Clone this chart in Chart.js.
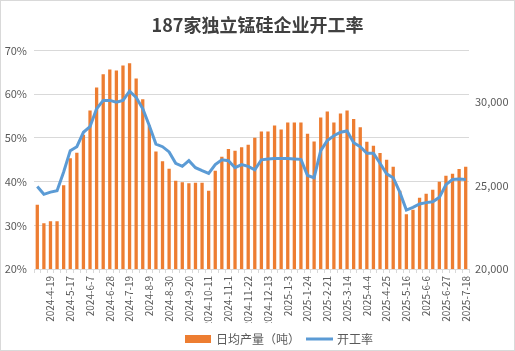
<!DOCTYPE html>
<html>
<head>
<meta charset="utf-8">
<script src="https://cdn.jsdelivr.net/npm/chart.js@4.4.1/dist/chart.umd.min.js"></script>
<style>
  html, body { margin: 0; padding: 0; background: #fff; }
  #wrap { width: 515px; height: 351px; }
</style>
</head>
<body>
<div id="wrap"><canvas id="myChart" width="515" height="351"></canvas></div>
<script>
// weekly dates (some holiday weeks are missing in the source)
const weeks = ['2024-4-5','2024-4-12','2024-4-19','2024-4-26','2024-5-10','2024-5-17','2024-5-24','2024-5-31',
  '2024-6-7','2024-6-14','2024-6-21','2024-6-28','2024-7-5','2024-7-12','2024-7-19','2024-7-26',
  '2024-8-2','2024-8-9','2024-8-16','2024-8-23','2024-8-30','2024-9-6','2024-9-13','2024-9-20','2024-9-27',
  '2024-10-4','2024-10-11','2024-10-18','2024-10-25','2024-11-1','2024-11-8','2024-11-15','2024-11-22','2024-11-29',
  '2024-12-6','2024-12-13','2024-12-20','2024-12-27','2025-1-3','2025-1-10','2025-1-17','2025-1-24',
  '2025-2-7','2025-2-14','2025-2-21','2025-2-28','2025-3-7','2025-3-14','2025-3-21','2025-3-28',
  '2025-4-4','2025-4-11','2025-4-18','2025-4-25','2025-5-2','2025-5-9','2025-5-16','2025-5-23','2025-5-30',
  '2025-6-6','2025-6-13','2025-6-20','2025-6-27','2025-7-4','2025-7-11','2025-7-18'];

// 日均产量（吨）
const dailyOutput = [23860,22740,22860,22860,25020,26640,26980,28060,29500,30880,31680,31960,31900,32200,32340,31420,
  30180,28600,27050,26460,26020,25300,25200,25140,25180,25180,24700,25900,26740,27200,27100,27300,27450,27870,
  28250,28250,28600,28360,28790,28790,28790,28110,27650,29090,29440,28790,29330,29500,29000,28500,27640,27400,
  26960,26560,26140,24700,23280,23560,24280,24520,24760,25240,25600,25720,26000,26140];

// 开工率 (%)
const runRate = [38.9,37.1,37.6,37.9,42.2,47.1,48.0,51.3,52.6,56.7,58.6,58.6,58.2,58.6,60.7,59.3,
  56.7,52.8,48.6,48.0,46.8,44.2,43.5,44.8,43.2,42.5,41.9,43.9,45.0,44.8,43.2,43.9,43.5,42.7,
  45.0,45.2,45.3,45.3,45.3,45.2,45.1,41.4,40.9,47.1,49.4,50.5,51.3,51.6,48.9,48.0,46.5,46.5,
  44.2,41.8,40.9,37.6,33.5,34.1,34.9,35.2,35.4,36.4,39.3,40.5,40.6,40.5];

const rateTicks = [20, 30, 40, 50, 60, 70];
const outputTicks = [20000, 25000, 30000];

const txt = '#595959';
const font = '"Noto Sans CJK SC", "Liberation Sans", sans-serif';

// outer border + bottom legend (Excel style)
const frame = {
  id: 'frame',
  afterDraw(chart) {
    const c = chart.ctx;
    const ds = chart.data.datasets;
    c.save();
    c.strokeStyle = '#d9d9d9';
    c.lineWidth = 1;
    c.strokeRect(0.5, 0.5, chart.width - 1, chart.height - 1);

    const y = 339;
    c.font = '12px ' + font;
    c.textBaseline = 'middle';
    let x = 185;
    c.fillStyle = ds[0].backgroundColor;
    c.fillRect(x, y - 4, 26, 8);
    c.fillStyle = txt;
    c.fillText(ds[0].label, x + 31, y);
    x = x + 31 + c.measureText(ds[0].label).width + 6;
    c.strokeStyle = ds[1].borderColor;
    c.lineWidth = 3;
    c.beginPath();
    c.moveTo(x, y);
    c.lineTo(x + 27, y);
    c.stroke();
    c.fillText(ds[1].label, x + 31, y);
    c.restore();
  }
};

const ctx = document.getElementById('myChart').getContext('2d');
new Chart(ctx, {
  data: {
    labels: weeks,
    datasets: [
      {
        type: 'bar',
        label: '日均产量（吨）',
        data: dailyOutput,
        yAxisID: 'yOut',
        backgroundColor: '#ED7D31',
        barPercentage: 0.5,
        categoryPercentage: 1,
        order: 2
      },
      {
        type: 'line',
        label: '开工率',
        data: runRate,
        yAxisID: 'yRate',
        borderColor: '#5B9BD5',
        backgroundColor: '#5B9BD5',
        borderWidth: 3,
        pointRadius: 0,
        tension: 0,
        order: 1
      }
    ]
  },
  options: {
    responsive: false,
    animation: false,
    layout: { padding: { top: 0, left: 0, right: 0, bottom: 28 } },
    plugins: {
      title: {
        display: true,
        text: '187家独立锰硅企业开工率',
        color: '#404040',
        font: { family: font, size: 18, weight: 'bold' },
        padding: { top: 14, bottom: 15 }
      },
      legend: { display: false },
      tooltip: { enabled: false }
    },
    scales: {
      x: {
        offset: true,
        afterFit: s => { s.height = 54; },
        grid: { display: true, drawOnChartArea: false, drawTicks: true, tickLength: 4, offset: true, color: '#d9d9d9' },
        border: { color: '#d9d9d9' },
        ticks: {
          autoSkip: false,
          maxRotation: 90,
          minRotation: 90,
          color: txt,
          font: { family: font, size: 10 },
          padding: 3,
          callback: function (v, i) { return i % 3 === 2 ? this.getLabelForValue(v) : ''; }
        }
      },
      yRate: {
        position: 'left',
        min: 20,
        max: 70,
        afterBuildTicks: s => { s.ticks = rateTicks.map(v => ({ value: v })); },
        afterFit: s => { s.width = 34; },
        grid: { color: '#d9d9d9', drawTicks: false },
        border: { display: false },
        ticks: { color: txt, font: { family: font, size: 11 }, padding: 7, callback: v => v + '%' }
      },
      yOut: {
        position: 'right',
        min: 20000,
        max: 33100,
        afterBuildTicks: s => { s.ticks = outputTicks.map(v => ({ value: v })); },
        afterFit: s => { s.width = 46; },
        grid: { display: false, drawTicks: false },
        border: { display: false },
        ticks: { color: txt, font: { family: font, size: 11 }, padding: 6, callback: v => v.toLocaleString('en-US') }
      }
    }
  },
  plugins: [frame]
});
</script>
</body>
</html>
